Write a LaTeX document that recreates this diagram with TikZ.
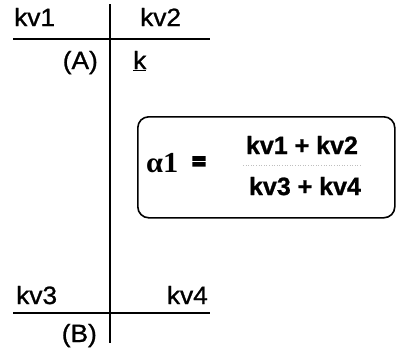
\documentclass[tikz,border=0pt]{standalone}
\usepackage{fontspec}
\setmainfont{Liberation Sans}
\newfontfamily\lblfont[FakeStretch=1.05,FakeBold=1]{Liberation Sans}
\newfontfamily\fracfont[FakeBold=1]{Liberation Sans Bold}
\newfontfamily\eqfont[FakeBold=10]{Liberation Sans Bold}
\newfontfamily\serfont[FakeStretch=1.05]{Liberation Serif Bold}
\begin{document}
\begin{tikzpicture}[x=1pt,y=-1pt,
  lbl/.style={inner sep=0pt,font=\lblfont\fontsize{25}{25}\selectfont},
  frac/.style={inner sep=0pt,font=\fracfont\fontsize{25}{25}\selectfont},
  rule/.style={line width=1.8pt},
  fbox/.style={draw,line width=1.6pt,rounded corners=11pt}]
\useasboundingbox (0,0) rectangle (396,351);
% T lines
\coordinate (vt) at (110,4);
\coordinate (vb) at (110,343);
\coordinate (htl) at (13,39);
\coordinate (htr) at (210,39);
\coordinate (hbl) at (13,313);
\coordinate (hbr) at (210,313);
\draw[rule] (vt) -- (vb);
\draw[rule] (htl) -- (htr);
\draw[rule] (hbl) -- (hbr);
% labels
\node[lbl,anchor=base west] (kv1) at (14,26) {kv1};
\node[lbl,anchor=base west] (kv2) at (140,26) {kv2};
\node[lbl,anchor=base east] (A) at (98,69) {(A)};
\node[lbl,anchor=base west] (k) at (133,69) {\underline{k}};
\node[lbl,anchor=base west] (kv3) at (16,304) {kv3};
\node[lbl,anchor=base east] (kv4) at (208,304) {kv4};
\node[lbl,anchor=base east] (B) at (97,342) {(B)};
% formula box
\node[fbox,minimum width=257pt,minimum height=101pt,anchor=north west] (box) at (137,116) {};
\node[inner sep=0pt,anchor=base west,font=\serfont\fontsize{29}{29}\selectfont] (alpha) at (146,172) {α1};
\node[inner sep=0pt,font=\eqfont\fontsize{22}{22}\selectfont] (eq) at (199,163) {=};
\node[frac,anchor=base] (num) at (302,154) {kv1 + kv2};
\node[frac,anchor=base] (den) at (305,195) {kv3 + kv4};
\coordinate (fl) at (243,165);
\coordinate (fr) at (361,165);
\draw[black!25,line width=0.6pt,dotted] (fl) -- (fr);
\end{tikzpicture}
\end{document}
